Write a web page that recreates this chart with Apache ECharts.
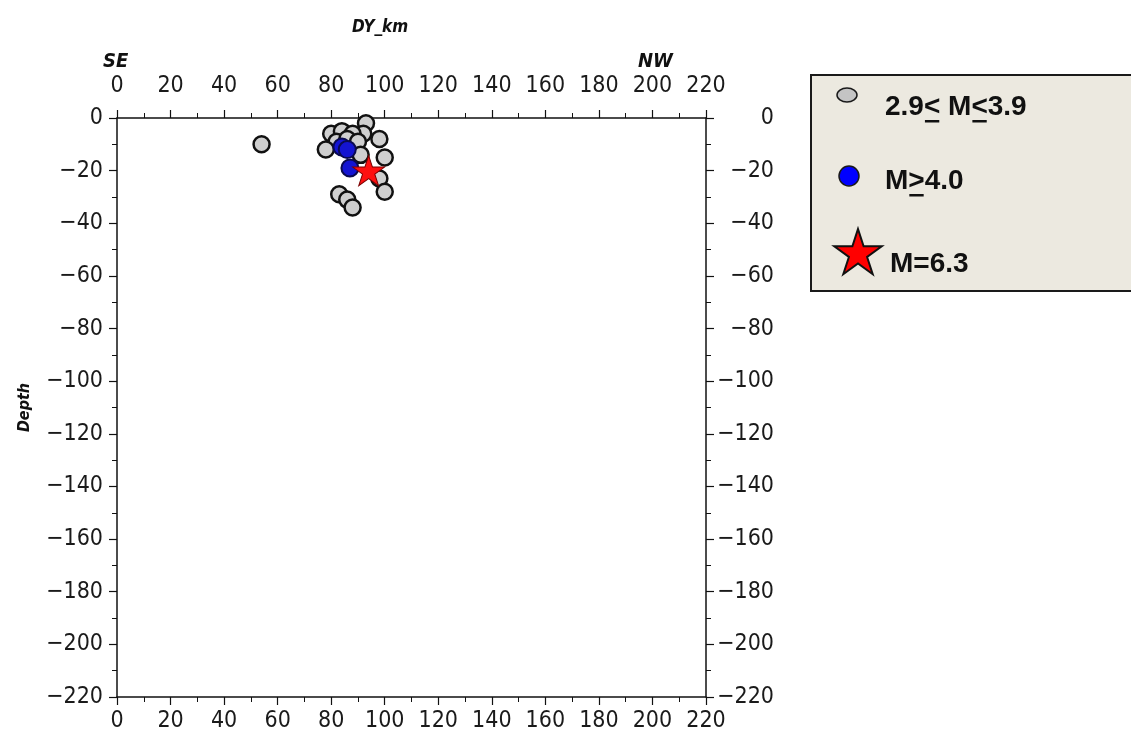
<!DOCTYPE html>
<html>
<head>
<meta charset="utf-8">
<script src="https://cdn.jsdelivr.net/npm/echarts@6/dist/echarts.min.js"></script>
<style>
html,body{margin:0;padding:0;background:#fff;}
#chart{width:1131px;height:744px;}
</style>
</head>
<body>
<div id="chart"></div>
<script>
// ---- data (DY_km, Depth) ----
const smallQuakes = [
  [54,-10],[93,-2],[92,-6],[80,-6],[84,-5],[88,-6],[82,-9],[86,-8],[90,-9],
  [78,-12],[91,-14],[98,-8],[100,-15],[98,-23],[100,-28],[83,-29],[86,-31],[88,-34]
];
const largeQuakes = [[84,-11],[86,-12],[87,-19]];
const mainShock = [[94,-20]];
const xTitle = 'DY_km';
const yTitle = 'Depth';
const leftEnd = 'SE';
const rightEnd = 'NW';
const legendLabels = ['2.9< M<3.9', 'M>4.0', 'M=6.3'];

// star symbol path
function starPath(){
  let p = '';
  for (let i = 0; i < 10; i++) {
    const a = (-90 + i * 36) * Math.PI / 180;
    const r = i % 2 === 0 ? 100 : 38.2;
    p += (i === 0 ? 'M' : 'L') + (r * Math.cos(a)).toFixed(2) + ' ' + (r * Math.sin(a)).toFixed(2) + ' ';
  }
  return 'path://' + p + 'Z';
}
const STAR = starPath();

const axisFont = '"DejaVu Sans Condensed","Liberation Sans Narrow",sans-serif';
const nameFont = '"DejaVu Sans Condensed","Liberation Sans",sans-serif';
const minusFmt = v => String(v).replace('-', '\u2212');

function xAxisCfg(pos, margin){
  return {
    type:'value', position:pos, min:0, max:220, interval:20,
    axisLine:{show:true, onZero:false, lineStyle:{color:'#111', width:1.5}},
    axisTick:{show:true, length:8, lineStyle:{color:'#111', width:1.2}},
    minorTick:{show:true, splitNumber:2, length:5, lineStyle:{color:'#111', width:1}},
    splitLine:{show:false},
    axisLabel:{fontFamily:axisFont, fontSize:23, color:'#1a1a1a', margin:margin, showMinLabel:true, showMaxLabel:true}
  };
}
function yAxisCfg(pos, extra){
  const lab = Object.assign({fontFamily:axisFont, fontSize:23, color:'#1a1a1a', formatter:minusFmt, showMinLabel:true, showMaxLabel:true}, extra);
  return {
    type:'value', position:pos, min:-220, max:0, interval:20,
    axisLine:{show:true, onZero:false, lineStyle:{color:'#111', width:1.5}},
    axisTick:{show:true, length:8, lineStyle:{color:'#111', width:1.2}},
    minorTick:{show:true, splitNumber:2, length:5, lineStyle:{color:'#111', width:1}},
    splitLine:{show:false},
    axisLabel:lab
  };
}

// legend graphics
const legendFont = 'bold 28px "Liberation Sans", Arial, sans-serif';
const mctx = document.createElement('canvas').getContext('2d');
mctx.font = legendFont;
function legendText(parts, x, y){
  const els = [];
  let cx = x;
  parts.forEach(p => {
    const w = mctx.measureText(p.t).width;
    els.push({type:'text', x:cx, y:y, style:{text:p.t, font:legendFont, fill:'#111', verticalAlign:'middle', align:'left'}, silent:true});
    if (p.u) {
      els.push({type:'rect', shape:{x:cx+1, y:y+13, width:w-2, height:2.5}, style:{fill:'#111'}, silent:true});
    }
    cx += w;
  });
  return els;
}
const l1 = legendLabels[0];
const graphicEls = [
  {type:'rect', shape:{x:811, y:75, width:360, height:216}, style:{fill:'#ECE9E0', stroke:'#1a1a1a', lineWidth:2}, silent:true},
  {type:'ellipse', shape:{cx:847, cy:95, rx:10, ry:7}, style:{fill:'#c4c4c4', stroke:'#1a1a1a', lineWidth:1.5}, silent:true},
  {type:'circle', shape:{cx:849, cy:176, r:10}, style:{fill:'#0000ff', stroke:'#1a1a1a', lineWidth:1.5}, silent:true},
  ...legendText([{t:l1.slice(0,3)},{t:l1.slice(3,4),u:true},{t:l1.slice(4,6)},{t:l1.slice(6,7),u:true},{t:l1.slice(7)}], 885, 107),
  ...legendText([{t:legendLabels[1].slice(0,1)},{t:legendLabels[1].slice(1,2),u:true},{t:legendLabels[1].slice(2)}], 885, 181),
  ...legendText([{t:legendLabels[2]}], 890, 264),
  {type:'text', x:103, y:62, style:{text:leftEnd, font:'italic bold 20px ' + nameFont, fill:'#111', verticalAlign:'middle'}, silent:true},
  {type:'text', x:638, y:62, style:{text:rightEnd, font:'italic bold 20px ' + nameFont, fill:'#111', verticalAlign:'middle'}, silent:true}
];

function starGraphic(cx, cy, R){
  const pts = [];
  for (let i = 0; i < 10; i++) {
    const a = (-90 + i * 36) * Math.PI / 180;
    const r = i % 2 === 0 ? R : R * 0.382;
    pts.push([cx + r * Math.cos(a), cy + r * Math.sin(a)]);
  }
  return {type:'polygon', shape:{points:pts}, style:{fill:'#ff0000', stroke:'#111', lineWidth:2}, silent:true};
}
graphicEls.push(starGraphic(858, 254, 25));

const chart = echarts.init(document.getElementById('chart'), null, {renderer:'canvas'});
chart.setOption({
  animation:false,
  backgroundColor:'#ffffff',
  title:{text:xTitle, left:347, top:14, textStyle:{fontFamily:nameFont, fontStyle:'italic', fontWeight:'bold', fontSize:17, color:'#111'}},
  grid:{left:117, right:425, top:118, bottom:47, containLabel:false},
  xAxis:[xAxisCfg('bottom', 13), xAxisCfg('top', 20)],
  yAxis:[
    Object.assign(yAxisCfg('left', {margin:14}), {name:yTitle, nameLocation:'middle', nameGap:84, nameRotate:90,
      nameTextStyle:{fontFamily:nameFont, fontStyle:'italic', fontWeight:'bold', fontSize:16, color:'#111'}}),
    yAxisCfg('right', {margin:68, align:'right'})
  ],
  series:[
    {type:'scatter', name:legendLabels[0], xAxisIndex:0, yAxisIndex:0, data:smallQuakes, symbol:'circle', symbolSize:16,
      itemStyle:{color:'#cfcfcf', borderColor:'#111', borderWidth:2.5, opacity:1}, z:2},
    {type:'scatter', name:legendLabels[1], xAxisIndex:0, yAxisIndex:0, data:largeQuakes, symbol:'circle', symbolSize:17,
      itemStyle:{color:'#1414d2', borderColor:'#0a0a50', borderWidth:2, opacity:1}, z:3},
    {type:'scatter', name:legendLabels[2], xAxisIndex:0, yAxisIndex:0, data:mainShock, symbol:STAR, symbolSize:[32,30],
      itemStyle:{color:'#ff1010', borderColor:'#7a0000', borderWidth:1, opacity:1}, z:4}
  ],
  graphic:graphicEls
});
</script>
</body>
</html>
